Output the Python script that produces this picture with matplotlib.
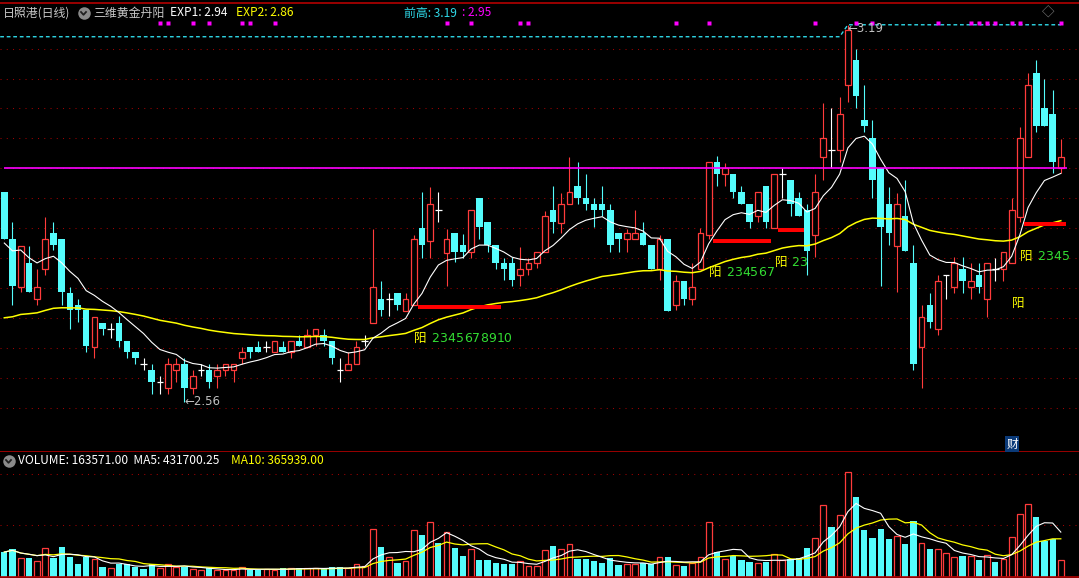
import numpy as np
import pandas as pd
import matplotlib
matplotlib.use('Agg')
import matplotlib.pyplot as plt
from matplotlib.lines import Line2D

plt.rcParams['font.family'] = ['Noto Sans CJK SC', 'DejaVu Sans']

#%% data (daily candles)
opens = [2.910, 2.831, 2.752, 2.792, 2.732, 2.782, 2.841, 2.831, 2.742, 2.722,
         2.713, 2.652, 2.692, 2.682, 2.692, 2.662, 2.643, 2.622, 2.613, 2.593,
         2.582, 2.612, 2.622, 2.582, 2.613, 2.613, 2.602, 2.612, 2.612, 2.632,
         2.652, 2.652, 2.652, 2.642, 2.652, 2.642, 2.662, 2.652, 2.672, 2.672,
         2.662, 2.613, 2.612, 2.622, 2.662, 2.692, 2.732, 2.732, 2.742, 2.711,
         2.721, 2.850, 2.829, 2.880, 2.809, 2.841, 2.821, 2.810, 2.900, 2.861,
         2.821, 2.792, 2.792, 2.772, 2.782, 2.792, 2.810, 2.880, 2.859, 2.890,
         2.920, 2.900, 2.891, 2.891, 2.881, 2.841, 2.831, 2.831, 2.841, 2.821,
         2.781, 2.831, 2.721, 2.762, 2.732, 2.781, 2.839, 2.961, 2.940, 2.941,
         2.910, 2.890, 2.870, 2.920, 2.850, 2.940, 2.930, 2.900, 2.881, 2.839,
         2.969, 2.981, 2.980, 3.090, 3.131, 3.030, 3.000, 2.950, 2.890, 2.820,
         2.871, 2.792, 2.652, 2.722, 2.682, 2.772, 2.751, 2.782, 2.752, 2.772,
         2.732, 2.782, 2.782, 2.792, 2.869, 2.969, 3.110, 3.050, 3.040, 2.950]
highs = [2.910, 2.861, 2.820, 2.820, 2.781, 2.869, 2.861, 2.831, 2.752, 2.732,
         2.713, 2.702, 2.692, 2.692, 2.703, 2.662, 2.643, 2.632, 2.622, 2.603,
         2.632, 2.632, 2.632, 2.612, 2.622, 2.622, 2.622, 2.622, 2.622, 2.652,
         2.652, 2.662, 2.662, 2.662, 2.662, 2.662, 2.672, 2.682, 2.682, 2.682,
         2.662, 2.632, 2.642, 2.661, 2.672, 2.849, 2.762, 2.742, 2.742, 2.741,
         2.839, 2.911, 2.919, 2.911, 2.849, 2.841, 2.840, 2.880, 2.900, 2.861,
         2.821, 2.800, 2.801, 2.818, 2.800, 2.810, 2.879, 2.920, 2.909, 2.969,
         2.960, 2.940, 2.900, 2.920, 2.890, 2.841, 2.849, 2.880, 2.861, 2.821,
         2.839, 2.831, 2.771, 2.762, 2.791, 2.850, 2.961, 2.971, 2.959, 2.941,
         2.920, 2.890, 2.910, 2.920, 2.940, 2.950, 2.930, 2.910, 2.890, 2.940,
         3.059, 3.050, 3.069, 3.190, 3.150, 3.090, 3.030, 2.950, 2.919, 2.909,
         2.931, 2.821, 2.721, 2.742, 2.772, 2.772, 2.802, 2.802, 2.792, 2.792,
         2.792, 2.800, 2.810, 2.900, 3.019, 3.109, 3.131, 3.100, 3.081, 2.999]
lows = [2.831, 2.722, 2.743, 2.743, 2.722, 2.772, 2.814, 2.722, 2.682, 2.693,
        2.643, 2.633, 2.672, 2.667, 2.652, 2.633, 2.623, 2.613, 2.573, 2.573,
        2.573, 2.593, 2.560, 2.573, 2.603, 2.583, 2.583, 2.603, 2.593, 2.622,
        2.633, 2.643, 2.643, 2.642, 2.643, 2.633, 2.653, 2.652, 2.653, 2.653,
        2.623, 2.593, 2.612, 2.622, 2.653, 2.692, 2.703, 2.703, 2.713, 2.711,
        2.721, 2.800, 2.800, 2.861, 2.753, 2.793, 2.800, 2.800, 2.831, 2.810,
        2.782, 2.763, 2.753, 2.753, 2.772, 2.783, 2.810, 2.841, 2.841, 2.890,
        2.891, 2.881, 2.851, 2.871, 2.810, 2.810, 2.810, 2.831, 2.821, 2.782,
        2.763, 2.712, 2.713, 2.722, 2.722, 2.781, 2.831, 2.921, 2.921, 2.900,
        2.890, 2.850, 2.861, 2.850, 2.850, 2.900, 2.871, 2.871, 2.772, 2.801,
        2.930, 2.950, 2.961, 3.061, 3.050, 3.011, 2.901, 2.753, 2.822, 2.743,
        2.811, 2.612, 2.583, 2.683, 2.672, 2.732, 2.742, 2.742, 2.732, 2.742,
        2.702, 2.762, 2.762, 2.792, 2.861, 2.969, 3.011, 3.021, 2.942, 2.942]
closes = [2.831, 2.753, 2.820, 2.743, 2.752, 2.831, 2.821, 2.743, 2.713, 2.713,
          2.653, 2.702, 2.682, 2.682, 2.662, 2.643, 2.633, 2.622, 2.593, 2.593,
          2.622, 2.622, 2.582, 2.602, 2.613, 2.593, 2.613, 2.622, 2.622, 2.642,
          2.643, 2.643, 2.652, 2.662, 2.643, 2.662, 2.653, 2.672, 2.682, 2.662,
          2.633, 2.613, 2.622, 2.652, 2.662, 2.752, 2.713, 2.732, 2.722, 2.732,
          2.831, 2.821, 2.890, 2.880, 2.831, 2.810, 2.810, 2.880, 2.851, 2.821,
          2.792, 2.782, 2.763, 2.782, 2.792, 2.810, 2.870, 2.861, 2.890, 2.910,
          2.900, 2.891, 2.881, 2.881, 2.821, 2.831, 2.841, 2.841, 2.821, 2.782,
          2.831, 2.712, 2.762, 2.732, 2.752, 2.841, 2.961, 2.941, 2.950, 2.910,
          2.890, 2.861, 2.910, 2.861, 2.940, 2.940, 2.890, 2.871, 2.811, 2.910,
          3.000, 2.981, 3.040, 3.181, 3.071, 3.021, 2.931, 2.851, 2.841, 2.890,
          2.811, 2.622, 2.702, 2.693, 2.762, 2.772, 2.792, 2.762, 2.762, 2.752,
          2.792, 2.782, 2.810, 2.881, 3.000, 3.090, 3.021, 3.021, 2.961, 2.969]
# thousands of shares
volumes = [239, 272, 177, 181, 151, 275, 184, 288, 190, 122,
           187, 171, 93, 80, 125, 119, 96, 76, 122, 80,
           122, 96, 96, 70, 60, 80, 63, 67, 66, 90,
           63, 63, 76, 67, 80, 80, 80, 80, 80, 73,
           90, 90, 80, 122, 99, 464, 288, 187, 132, 151,
           451, 405, 529, 324, 431, 278, 200, 265, 161, 161,
           135, 119, 125, 148, 103, 103, 256, 298, 265, 314,
           171, 171, 151, 132, 177, 112, 122, 122, 129, 119,
           187, 190, 109, 103, 129, 187, 529, 236, 171, 203,
           161, 142, 129, 145, 216, 158, 168, 177, 278, 373,
           695, 483, 597, 1017, 776, 454, 376, 464, 366, 392,
           317, 539, 324, 269, 265, 226, 187, 200, 197, 161,
           207, 142, 174, 382, 607, 705, 581, 350, 369, 163.571]

exp1_first = 2.825   # EXP1 value on the first visible bar
exp2_first = 2.700   # EXP2 value on the first visible bar
prior_high = 3.17    # 前高 before the window
prior_high2 = 2.95

top_marks = [19, 20, 23, 25, 29, 30, 33, 54, 57, 63, 64, 82, 86, 99, 104, 106,
             114, 118, 119, 120, 121, 123, 124, 129]

sig_idx = [50, 86, 94, 123, 124]
sig_count = [10, 7, 3, 0, 5]
sig_text_y = [2.666, 2.776, 2.793, 2.724, 2.803]

#%% colours
RED = '#ff3b3b'
CYAN = '#54fcfc'
GRID = '#a00000'
BORDER = '#b40000'

o = np.array(opens); h = np.array(highs); l = np.array(lows); c = np.array(closes)
vol = np.array(volumes) * 1000
x = np.arange(len(c))


def ema(vals, n, first):
    out = [first]
    a = 2.0 / (n + 1)
    for v in vals[1:]:
        out.append(out[-1] + a * (v - out[-1]))
    return np.array(out)


exp1 = ema(c, 10, exp1_first)
exp2 = ema(c, 60, exp2_first)

W, H = 1079, 578
fig = plt.figure(figsize=(W / 100, H / 100), dpi=100, facecolor='black')
ax = fig.add_axes([0, 126 / H, 1, 449 / H])
vax = fig.add_axes([0, 1 / H, 1, 125 / H])

for a_ in (ax, vax):
    a_.set_facecolor('black')
    a_.set_xticks([]); a_.set_yticks([])
    a_.set_xlim(-0.525, 131.22)
    for s in a_.spines.values():
        s.set_visible(False)
ax.set_ylim(2.4756, 3.2264)
vax.set_ylim(-4883, 1215867)
ax.spines['top'].set_visible(True); ax.spines['top'].set_color(BORDER)
ax.spines['bottom'].set_visible(True); ax.spines['bottom'].set_color(BORDER)
vax.spines['bottom'].set_visible(True); vax.spines['bottom'].set_color(BORDER)
for s in (ax.spines['top'], ax.spines['bottom'], vax.spines['bottom']):
    s.set_linewidth(1.2)

# grids
for g in np.arange(2.55, 3.16, 0.05):
    ax.axhline(g, color=GRID, lw=0.75, ls=(0, (1, 5)), zorder=0)
for g in [500000, 1000000]:
    vax.axhline(g, color=GRID, lw=0.75, ls=(0, (1, 5)), zorder=0)

#%% candles
up = c > o
dn = c < o
dj = c == o
bw = 0.8
ax.vlines(x[dn], l[dn], h[dn], color=CYAN, lw=0.8, zorder=2)
ax.bar(x[dn], (o - c)[dn], bottom=c[dn], width=bw, color=CYAN, lw=0, zorder=3)
ax.vlines(x[up], l[up], o[up], color=RED, lw=0.8, zorder=2)
ax.vlines(x[up], c[up], h[up], color=RED, lw=0.8, zorder=2)
ax.bar(x[up], (c - o)[up], bottom=o[up], width=bw - 0.1, facecolor='black',
       edgecolor=RED, lw=0.9, zorder=3)
ax.vlines(x[dj], l[dj], h[dj], color='white', lw=0.8, zorder=3)
ax.hlines(c[dj], x[dj] - bw / 2, x[dj] + bw / 2, color='white', lw=0.9, zorder=3)

ax.plot(x, exp2, color='#ffff00', lw=1.1, zorder=4)
ax.plot(x, exp1, color='white', lw=0.8, zorder=4)

# previous high lines
run_high = np.maximum.accumulate(np.r_[prior_high, h])[1:]
ax.plot(np.r_[x[0] - 0.5, x], np.r_[prior_high, run_high], color='#2fd9e8',
        lw=1.0, ls=(0, (2.7, 2.0)), zorder=4)
ax.hlines(prior_high2, x[0], x[-1] + 0.7, color='#ff00ff', lw=1.2, zorder=4)
ax.plot(top_marks, [0.9555] * len(top_marks), 's', ms=2.2, color='#ff00ff',
        mec='none', transform=ax.get_xaxis_transform(), zorder=5)

# high / low tags
ih = int(np.argmax(h)); il = int(np.argmin(l))
ax.annotate('\u2190' + '%.2f' % h[ih], (x[ih], h[ih]), xytext=(0, -3),
            textcoords='offset points', ha='left', va='center', fontsize=8.5,
            color='#c0c0c0', family=['DejaVu Sans'], zorder=6)
ax.annotate('\u2190' + '%.2f' % l[il], (x[il], l[il]), xytext=(0, 0),
            textcoords='offset points', ha='left', va='center', fontsize=8.5,
            color='#c0c0c0', family=['DejaVu Sans'], zorder=6)

# 阳 signals with count and support bar
for s, n, ty in zip(sig_idx, sig_count, sig_text_y):
    if n > 0:
        ax.fill_between([s + 0.5, s + n + 0.6], l[s] - 0.0067, l[s],
                        color='#ff0000', lw=0, zorder=5)
        for k in range(2, n + 1):
            ax.text(s + k + 0.1, ty, str(k), color='#33dd33', fontsize=9,
                    ha='left', va='center', family=['DejaVu Sans'], zorder=6)
    ax.text(s + 0.8, ty, '阳', color='#ffff00', fontsize=9, ha='center',
            va='center', zorder=7)

#%% volume
vred = up | (dj & (c >= np.r_[c[0], c[:-1]]))
vcy = ~vred
vax.bar(x[vcy], vol[vcy], width=0.76, color=CYAN, lw=0, zorder=2)
vax.bar(x[vred], vol[vred], width=0.7, facecolor='black', edgecolor=RED,
        lw=0.9, zorder=2)
ma5 = pd.Series(vol).rolling(5, min_periods=1).mean()
ma10 = pd.Series(vol).rolling(10, min_periods=1).mean()
vax.plot(x, ma10, color='#ffff00', lw=0.9, zorder=3)
vax.plot(x, ma5, color='white', lw=0.8, zorder=3)

#%% header texts


def ftxt(px, py, s, col, size=8.6, **kw):
    fig.text(px / W, 1 - py / H, s, color=col, fontsize=size, ha='left',
             va='center', **kw)


def icon(px, py):
    fig.add_artist(Line2D([px / W], [1 - py / H], marker='o', ms=9,
                          color='#8a8a8a', mec='none', transform=fig.transFigure))
    fig.add_artist(Line2D([(px - 2.5) / W, px / W, (px + 2.5) / W],
                          [1 - (py - 1) / H, 1 - (py + 1.8) / H, 1 - (py - 1) / H],
                          color='#202020', lw=1.3, transform=fig.transFigure))


ftxt(3, 13, '日照港(日线)', '#c8c8c8')
icon(83.5, 13)
ftxt(93, 13, '三维黄金丹阳', '#c8c8c8')
ftxt(170, 13, 'EXP1: 2.94', 'white')
ftxt(236, 13, 'EXP2: 2.86', '#ffff00')
ftxt(404, 13, '前高: 3.19', '#2fd9e8')
ftxt(462, 13, ': 2.95', '#ff00ff')
fig.text(1048 / W, 1 - 13 / H, '◇', color='#8a8a8a', fontsize=9,
         ha='center', va='center')

icon(8.5, 461)
ftxt(18, 461, 'VOLUME: 163571.00  MA5: 431700.25', 'white')
ftxt(231, 461, 'MA10: 365939.00', '#ffff00')

fig.text(1012 / W, 1 - 444 / H, '财', color='white', fontsize=8.5, ha='center',
         va='center', bbox=dict(boxstyle='square,pad=0.12', fc='#0b3a78', ec='none'))

fig.savefig('out.png', dpi=100, facecolor='black')
